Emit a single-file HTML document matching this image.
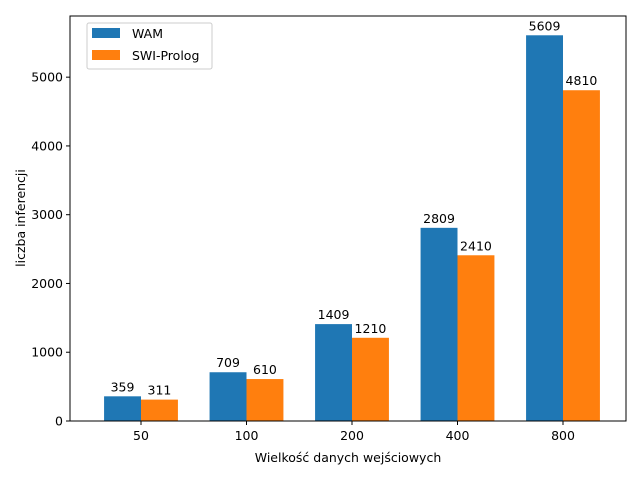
<!DOCTYPE html>
<html><head><meta charset="utf-8"><style>
body{margin:0;background:#fff;}
svg{font-family:"DejaVu Sans","Liberation Sans",sans-serif;}
</style></head><body>
<svg id="chart" width="640" height="480" viewBox="0 0 640 480" xmlns="http://www.w3.org/2000/svg">
<rect x="0" y="0" width="640" height="480" fill="#fff"/>
<g id="plot"></g>
<text x="348" y="462" font-size="12.5" text-anchor="middle">Wielkość danych wejściowych</text>
<text transform="translate(25,218) rotate(-90)" font-size="12.5" text-anchor="middle">liczba inferencji</text>
<g>
<rect x="87" y="23" width="125" height="46" fill="#fff" stroke="#ccc" rx="2"/>
<rect x="92" y="28" width="28" height="10" fill="#1f77b4"/>
<text x="132" y="38" font-size="12.5">WAM</text>
<rect x="92" y="50" width="28" height="10" fill="#ff7f0e"/>
<text x="132" y="60" font-size="12.5">SWI-Prolog</text>
</g>
</svg>
<script>
const categories = ["50","100","200","400","800"];
const wamValues = [359,709,1409,2809,5609];
const swiValues = [311,610,1210,2410,4810];
const yTicks = [0,1000,2000,3000,4000,5000];

const NS="http://www.w3.org/2000/svg";
const g=document.getElementById('plot');
const L=70,R=626,T=16,B=421;
const ymax=Math.max(...wamValues,...swiValues)*1.05;
const y=v=>B-(v/ymax)*(B-T);
const step=105.5, x0=141, bw=0.35*step;
const xc=i=>x0+i*step;
function el(t,a){const e=document.createElementNS(NS,t);for(const k in a)e.setAttribute(k,a[k]);g.appendChild(e);return e;}
function bar(i,v,off,color,name){
  const r=el('rect',{x:xc(i)+off,y:y(v),width:bw,height:B-y(v),fill:color});
  
  
  const t=el('text',{x:xc(i)+off+bw/2,y:y(v)-5,'font-size':12.5,'text-anchor':'middle'});
  t.textContent=v;
  
  
}
categories.forEach((c,i)=>{
  bar(i,wamValues[i],-bw,'#1f77b4','bar-wam-'+c);
  bar(i,swiValues[i],0,'#ff7f0e','bar-swi-'+c);
  const tk=el('line',{x1:xc(i),x2:xc(i),y1:B,y2:B+4,stroke:'#000'});
  
  
  const t=el('text',{x:xc(i),y:B+19,'font-size':12.5,'text-anchor':'middle'});
  t.textContent=c;
  
  
});
yTicks.forEach(v=>{
  const tk=el('line',{x1:L-4,x2:L,y1:y(v),y2:y(v),stroke:'#000'});
  
  
  const t=el('text',{x:L-7,y:y(v)+4.5,'font-size':12.5,'text-anchor':'end'});
  t.textContent=v;
  
  
});
const fr=el('rect',{x:L,y:T,width:R-L,height:B-T,fill:'none',stroke:'#000','stroke-width':1});


</script>
</body></html>
